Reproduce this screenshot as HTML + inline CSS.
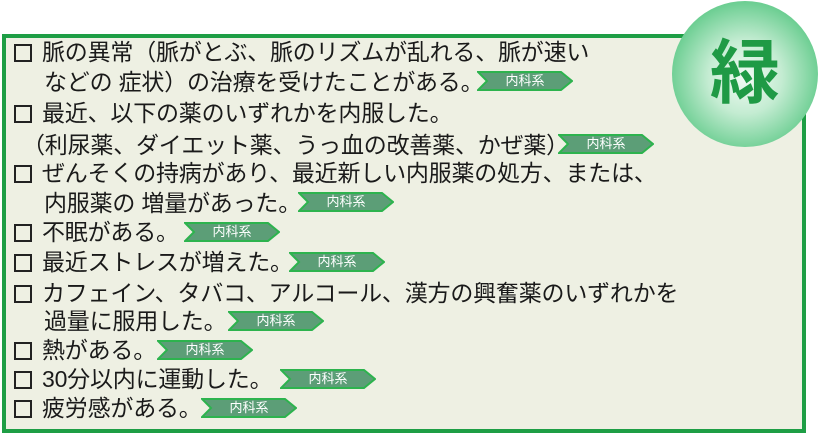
<!DOCTYPE html>
<html><head><meta charset="utf-8"><style>
body{margin:0;width:830px;height:434px;background:#fff;position:relative;overflow:hidden;font-family:"Liberation Sans","Noto Sans CJK JP",sans-serif;}
.box{position:absolute;left:2px;top:34px;width:796px;height:391px;border:4px solid #1e9e45;background:#eef0e3;}
.l{position:absolute;font-size:23px;line-height:28px;color:#1a1a1a;white-space:nowrap;letter-spacing:-0.2px}
.cb{position:absolute;width:14px;height:14px;border:2px solid #222;}
.b{position:absolute;width:96px;height:20px}
.b span{position:absolute;left:3px;top:0;width:90px;text-align:center;line-height:20px;color:#fff;font-size:13px}
.circle{position:absolute;left:672px;top:1px;width:146px;height:146px;border-radius:50%;background:radial-gradient(circle at 50% 52%,#f3fbf5 0%,#c4ecd2 35%,#6fcf94 70%,#3db56b 100%);}
.circle div{position:absolute;left:0;top:32px;width:146px;text-align:center;font-size:70px;line-height:80px;font-weight:bold;color:#1f9a45}
</style></head><body>
<div class="box"></div>
<div class="circle"><div>緑</div></div>
<div class="cb" style="left:14px;top:44px"></div>
<div class="l" style="left:42px;top:38px">脈の異常（脈がとぶ、脈のリズムが乱れる、脈が速い</div>
<div class="l" style="left:44px;top:68px">などの 症状）の治療を受けたことがある。</div>
<div class="cb" style="left:14px;top:105px"></div>
<div class="l" style="left:42px;top:99px">最近、以下の薬のいずれかを内服した。</div>
<div class="l" style="left:22px;top:131px">（利尿薬、ダイエット薬、うっ血の改善薬、かぜ薬）</div>
<div class="cb" style="left:14px;top:165px"></div>
<div class="l" style="left:42px;top:159px">ぜんそくの持病があり、最近新しい内服薬の処方、または、</div>
<div class="l" style="left:44px;top:189px">内服薬の 増量があった。</div>
<div class="cb" style="left:14px;top:224px"></div>
<div class="l" style="left:42px;top:218px">不眠がある。</div>
<div class="cb" style="left:14px;top:254px"></div>
<div class="l" style="left:42px;top:248px">最近ストレスが増えた。</div>
<div class="cb" style="left:14px;top:285px"></div>
<div class="l" style="left:42px;top:279px">カフェイン、タバコ、アルコール、漢方の興奮薬のいずれかを</div>
<div class="l" style="left:44px;top:307px">過量に服用した。</div>
<div class="cb" style="left:14px;top:342px"></div>
<div class="l" style="left:42px;top:336px">熱がある。</div>
<div class="cb" style="left:14px;top:371px"></div>
<div class="l" style="left:42px;top:365px">30分以内に運動した。</div>
<div class="cb" style="left:14px;top:400px"></div>
<div class="l" style="left:42px;top:394px">疲労感がある。</div>

<svg width="0" height="0" style="position:absolute"><defs><g id="ch"><polygon points="1,1 84,1 95,10 84,19 1,19 10,10" fill="#5c9e77" stroke="#2db34e" stroke-width="2"/></g></defs></svg>
<div class="b" style="left:477px;top:71px"><svg width="96" height="20"><use href="#ch"/></svg><span>内科系</span></div>
<div class="b" style="left:558px;top:134px"><svg width="96" height="20"><use href="#ch"/></svg><span>内科系</span></div>
<div class="b" style="left:298px;top:192px"><svg width="96" height="20"><use href="#ch"/></svg><span>内科系</span></div>
<div class="b" style="left:184px;top:222px"><svg width="96" height="20"><use href="#ch"/></svg><span>内科系</span></div>
<div class="b" style="left:289px;top:252px"><svg width="96" height="20"><use href="#ch"/></svg><span>内科系</span></div>
<div class="b" style="left:228px;top:311px"><svg width="96" height="20"><use href="#ch"/></svg><span>内科系</span></div>
<div class="b" style="left:157px;top:340px"><svg width="96" height="20"><use href="#ch"/></svg><span>内科系</span></div>
<div class="b" style="left:280px;top:369px"><svg width="96" height="20"><use href="#ch"/></svg><span>内科系</span></div>
<div class="b" style="left:201px;top:398px"><svg width="96" height="20"><use href="#ch"/></svg><span>内科系</span></div>
</body></html>
